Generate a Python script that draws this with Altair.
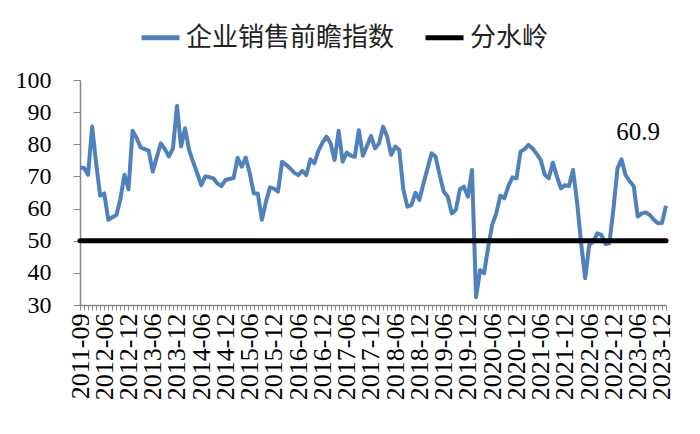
import json
import altair as alt
import pandas as pd

# ---- data ----
early_months = ["2011-09", "2011-11", "2011-12", "2012-03", "2012-04", "2012-05"]
monthly = []
for y in range(2012, 2025):
    for m in range(1, 13):
        s = f"{y}-{m:02d}"
        if "2012-06" <= s <= "2024-01":
            monthly.append(s)
categories = early_months + monthly

sales_index = [
    72.8, 72.6, 70.5, 85.5, 74.0, 64.0, 64.7, 56.5, 57.3, 58.0,
    63.0, 70.5, 66.0, 84.2, 82.0, 79.0, 78.5, 78.0, 71.5, 76.0,
    80.3, 78.5, 76.2, 78.7, 91.9, 79.3, 85.0, 78.2, 74.5, 71.0,
    67.3, 70.0, 69.8, 69.4, 67.8, 67.0, 68.9, 69.2, 69.5, 75.8,
    73.0, 75.9, 71.0, 64.7, 64.7, 56.5, 62.0, 66.6, 66.2, 65.3,
    74.6, 73.6, 72.5, 71.2, 70.4, 71.7, 70.4, 75.3, 74.1, 78.0,
    80.5, 82.4, 80.3, 75.1, 84.2, 74.6, 77.4, 76.5, 76.1, 84.4,
    76.4, 79.5, 82.6, 78.7, 80.3, 85.5, 82.4, 76.7, 79.3, 78.2,
    66.0, 60.6, 61.1, 64.9, 62.7, 67.9, 72.5, 77.2, 76.1, 70.4,
    65.3, 63.7, 58.5, 59.6, 66.0, 66.8, 63.7, 72.0, 32.4, 40.9,
    39.9, 48.0, 55.0, 58.5, 64.0, 63.2, 67.0, 69.7, 69.4, 77.7,
    78.5, 79.8, 78.7, 77.0, 75.1, 70.5, 69.4, 74.3, 70.0, 66.3,
    67.3, 67.0, 72.0, 62.0, 49.2, 38.3, 48.7, 49.7, 52.3, 51.8,
    49.0, 49.2, 60.0, 72.5, 75.3, 70.4, 68.5, 67.0, 57.5, 58.5,
    58.8, 58.0, 56.5, 55.4, 55.5, 60.9,
]
threshold = 50
y_ticks = [30, 40, 50, 60, 70, 80, 90, 100]
series_names = ["企业销售前瞻指数", "分水岭"]
series_colors = ["#4F81BD", "#000000"]

n = len(categories)
assert len(sales_index) == n

rows = []
for i, (c, v) in enumerate(zip(categories, sales_index)):
    rows.append({"idx": i, "month": c, "value": v, "series": series_names[0]})
    rows.append({"idx": i, "month": c, "value": threshold, "series": series_names[1]})
df = pd.DataFrame(rows)
last_df = pd.DataFrame([{"idx": n - 1, "value": sales_index[-1],
                         "label": f"{sales_index[-1]:.1f}"}])

tick_labels = [c if i % 6 == 0 else "" for i, c in enumerate(categories)]
label_expr = json.dumps(tick_labels, ensure_ascii=False) + "[datum.value]"

SERIF = "Liberation Serif"

x_enc = alt.X(
    "idx:Q",
    scale=alt.Scale(domain=[0, n - 1], nice=False, zero=False),
    axis=alt.Axis(
        title=None, values=list(range(n)), labelExpr=label_expr,
        labelAngle=-90, labelAlign="right", labelBaseline="middle",
        labelFontSize=26, labelColor="#000000",
        labelOverlap=False, labelFlush=False, labelBound=False, labelPadding=3,
        tickSize=5, tickColor="#868686", domainColor="#868686", domainWidth=1.5,
        grid=False,
    ),
)
y_enc = alt.Y(
    "value:Q",
    scale=alt.Scale(domain=[30, 100], nice=False, zero=False),
    axis=alt.Axis(
        title=None, values=y_ticks, labelOverlap=False,
        labelFontSize=24, labelColor="#000000",
        labelPadding=22, tickSize=7, tickColor="#868686",
        domainColor="#868686", domainWidth=1.5, grid=False,
    ),
)
color_enc = alt.Color(
    "series:N",
    scale=alt.Scale(domain=series_names, range=series_colors),
    legend=alt.Legend(
        title=None, orient="none", direction="horizontal",
        legendX=59, legendY=-64, symbolType="stroke", symbolSize=1444,
        symbolStrokeWidth=5, labelFont="Noto Sans CJK SC", labelFontSize=26,
        labelColor="#222222", columnPadding=20, labelOffset=4, padding=0,
        labelLimit=0,
    ),
)

blue = alt.Chart(df).transform_filter(
    alt.datum.series == series_names[0]
).mark_line(strokeWidth=4, strokeJoin="round").encode(
    x=x_enc, y=y_enc, color=color_enc, order="idx:Q"
)
black = alt.Chart(df).transform_filter(
    alt.datum.series == series_names[1]
).mark_line(strokeWidth=5, strokeCap="round").encode(
    x=x_enc, y=y_enc, color=color_enc, order="idx:Q"
)
label = alt.Chart(last_df).mark_text(
    fontSize=25, color="#000000", dx=-28, dy=-74
).encode(x=x_enc, y=y_enc, text="label:N")

chart = alt.layer(blue, black, label).properties(
    width=586, height=225,
    autosize=alt.AutoSizeParams(type="none"),
    padding={"left": 80, "top": 80, "right": 34, "bottom": 129},
).configure(
    background="white", font=SERIF,
).configure_view(stroke=None).configure_axis(
    labelOverlap=False, labelFont=SERIF
).configure_text(font=SERIF).configure_legend(labelFont="Noto Sans CJK SC")

chart.save("out.html", embed_options={"renderer": "svg", "actions": False})
